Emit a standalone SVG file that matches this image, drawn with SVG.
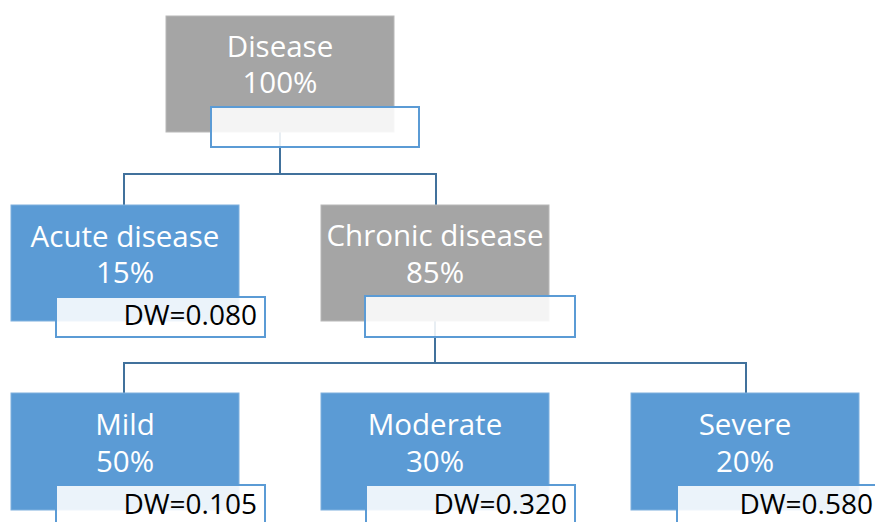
<svg xmlns="http://www.w3.org/2000/svg" width="875" height="522" viewBox="0 0 875 522">
<style>
.blue{fill:#5B9BD5;stroke:#7FB0DE;stroke-width:1}
.gray{fill:#A5A5A5;stroke:#B8B8B8;stroke-width:1}
.lab{fill:#FFFFFF;fill-opacity:0.88;stroke:#5B9BD5;stroke-width:2}
.t{font-family:"Open Sans","Liberation Sans",sans-serif;font-size:29.5px;fill:#FFFFFF;text-anchor:middle}
.dw{font-family:"Open Sans","Liberation Sans",sans-serif;font-size:28px;fill:#000000;text-anchor:end}
.c{fill:none;stroke:#41719C;stroke-width:2}
</style>
<rect width="875" height="522" fill="#FFFFFF"/>
<g id="connectors">
<path class="c" d="M280,132 V174 M124,205 V174 H436 V205"/>
<path class="c" d="M435,321 V363 M124,393 V363 H746 V393"/>
</g>
<g id="disease">
<rect class="gray" x="166" y="16" width="228" height="116"/>
<text class="t" x="280" y="57">Disease</text>
<text class="t" x="280" y="93">100%</text>
<rect class="lab" x="211" y="107" width="208" height="40"/>
</g>
<g id="acute">
<rect class="blue" x="11" y="205" width="228" height="116"/>
<text class="t" x="125" y="247">Acute disease</text>
<text class="t" x="125" y="283">15%</text>
<rect class="lab" x="56" y="297" width="209" height="40"/>
<text class="dw" x="257" y="325">DW=0.080</text>
</g>
<g id="chronic">
<rect class="gray" x="321" y="205" width="228" height="116"/>
<text class="t" x="435" y="246">Chronic disease</text>
<text class="t" x="435" y="283">85%</text>
<rect class="lab" x="365" y="296" width="210" height="41"/>
</g>
<g id="mild">
<rect class="blue" x="11" y="393" width="228" height="117"/>
<text class="t" x="125" y="435">Mild</text>
<text class="t" x="125" y="472">50%</text>
<rect class="lab" x="56" y="485" width="209" height="45"/>
<text class="dw" x="257" y="514">DW=0.105</text>
</g>
<g id="moderate">
<rect class="blue" x="321" y="393" width="228" height="117"/>
<text class="t" x="435" y="435">Moderate</text>
<text class="t" x="435" y="472">30%</text>
<rect class="lab" x="366" y="485" width="209" height="45"/>
<text class="dw" x="567" y="514">DW=0.320</text>
</g>
<g id="severe">
<rect class="blue" x="631" y="393" width="228" height="117"/>
<text class="t" x="745" y="435">Severe</text>
<text class="t" x="745" y="472">20%</text>
<rect class="lab" x="677" y="485" width="209" height="45"/>
<text class="dw" x="873" y="514">DW=0.580</text>
</g>
</svg>
